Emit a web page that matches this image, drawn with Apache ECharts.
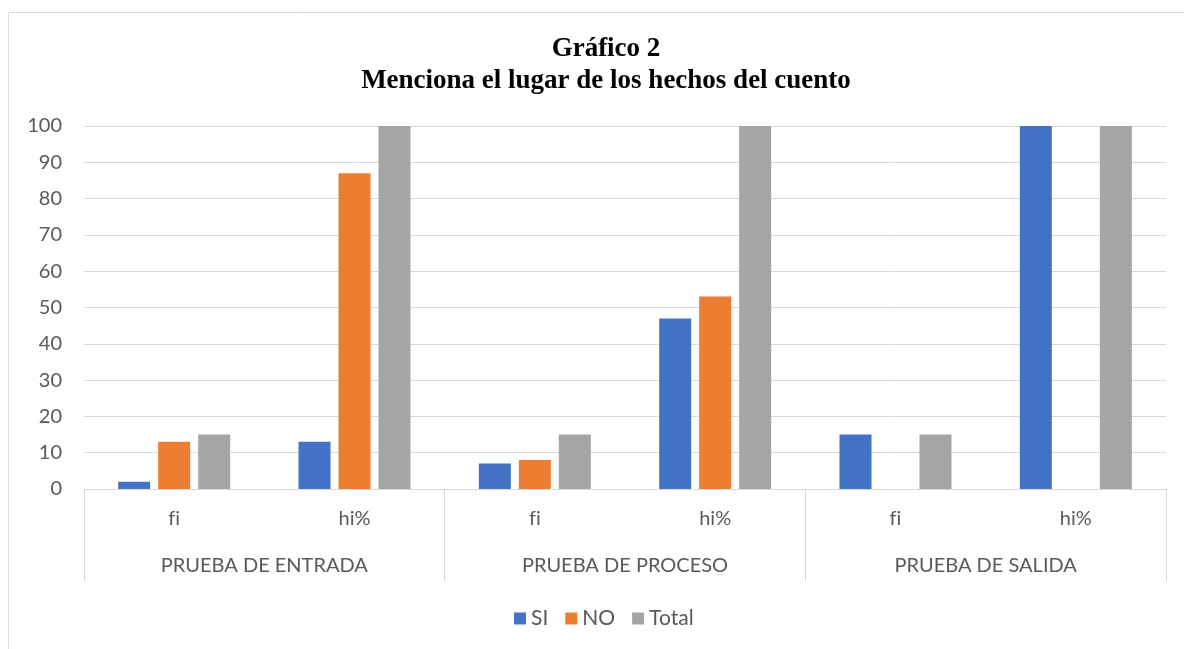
<!DOCTYPE html>
<html>
<head>
<meta charset="utf-8">
<script src="https://cdn.jsdelivr.net/npm/echarts@6/dist/echarts.min.js"></script>
<style>
html,body{margin:0;padding:0;background:#fff;}
#c{width:1184px;height:649px;}
</style>
</head>
<body>
<div id="c"></div>
<script>
const titleLines = ['Gráfico 2', 'Menciona el lugar de los hechos del cuento'];
const groups = ['PRUEBA DE ENTRADA', 'PRUEBA DE PROCESO', 'PRUEBA DE SALIDA'];
const subLabels = ['fi', 'hi%', 'fi', 'hi%', 'fi', 'hi%'];
const seriesNames = ['SI', 'NO', 'Total'];
const siValues = [2, 13, 7, 47, 15, 100];
const noValues = [13, 87, 8, 53, 0, 0];
const totalValues = [15, 100, 15, 100, 15, 100];
const colors = ['#4472C4', '#ED7D31', '#A5A5A5'];

const font = 'Lato';
const chart = echarts.init(document.getElementById('c'), null, {renderer: 'canvas'});
const valuesList = [siValues, noValues, totalValues];
// break the typographic "fi" ligature
const noLig = s => String(s).split('').join('\u200C');
chart.setOption({
  animation: false,
  backgroundColor: '#fff',
  graphic: [{
    type: 'rect', shape: {x: 8.5, y: 12.5, width: 1300, height: 800},
    style: {fill: 'none', stroke: '#d9d9d9', lineWidth: 1}, z: -1
  }],
  title: {
    text: titleLines.join('\n'),
    left: 601, top: 28, textAlign: 'center',
    textStyle: {fontFamily: 'Liberation Serif', fontWeight: 'bold', fontSize: 27, color: '#000', lineHeight: 32}
  },
  legend: {
    data: seriesNames, left: 509, top: 603,
    icon: 'rect', itemWidth: 12, itemHeight: 12, itemGap: 17, itemTextGap: 6,
    textStyle: {fontFamily: font, fontSize: 21, color: '#595959'}
  },
  grid: {left: 84, right: 18, top: 126, bottom: 160, containLabel: false},
  xAxis: [{
    type: 'category', data: subLabels, position: 'bottom',
    axisLine: {lineStyle: {color: '#d9d9d9', width: 1}},
    axisTick: {show: false},
    axisLabel: {margin: 20, fontFamily: font, fontSize: 20, color: '#595959', interval: 0, formatter: noLig}
  }, {
    type: 'category', data: groups, position: 'bottom', offset: 0,
    axisLine: {show: false},
    axisTick: {show: true, length: 92, interval: 0, lineStyle: {color: '#d9d9d9', width: 1}},
    axisLabel: {margin: 67, fontFamily: font, fontSize: 20, color: '#595959', interval: 0}
  }],
  yAxis: {
    type: 'value', min: 0, max: 100, interval: 10,
    axisLine: {show: false}, axisTick: {show: false},
    splitLine: {lineStyle: {color: '#d9d9d9', width: 1}},
    axisLabel: {margin: 22, fontFamily: font, fontSize: 20, color: '#595959'}
  },
  series: seriesNames.map((n, i) => ({
    name: n, type: 'bar', xAxisIndex: 0, data: valuesList[i],
    barWidth: 32, barGap: '25%', itemStyle: {color: colors[i]}
  }))
});
</script>
</body>
</html>
